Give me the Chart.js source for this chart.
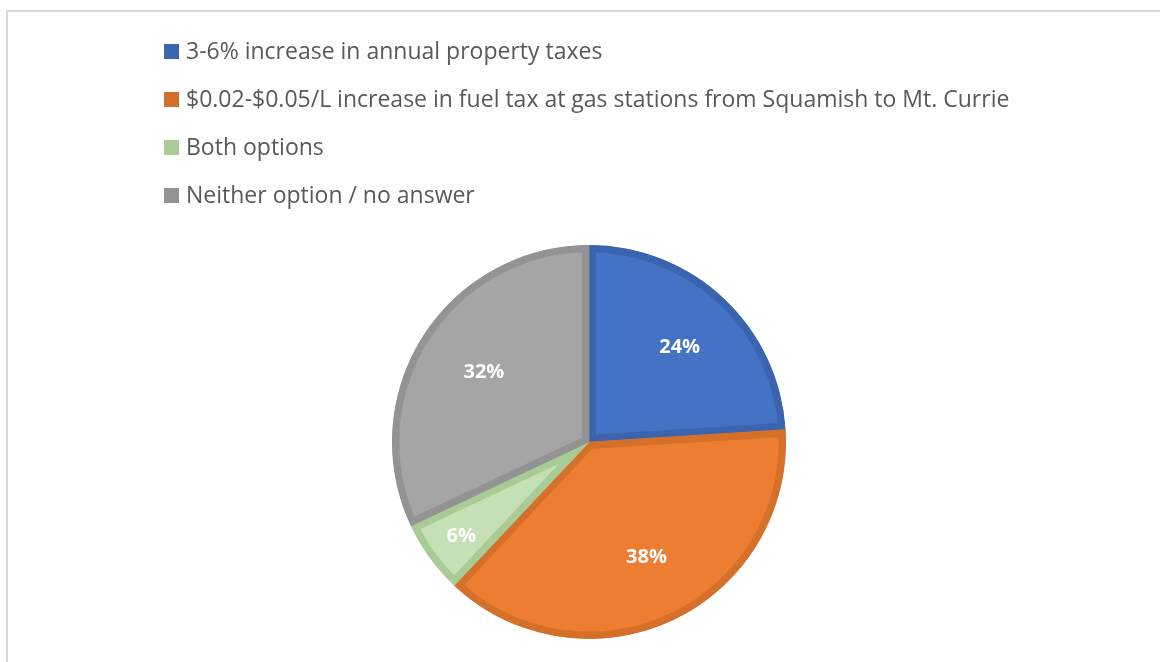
<!DOCTYPE html>
<html>
<head>
<meta charset="utf-8">
<script src="https://cdn.jsdelivr.net/npm/chart.js@4.4.0/dist/chart.umd.min.js"></script>
<style>
  body { margin: 0; background: #fff; overflow: hidden; }
  #frame { position: absolute; left: 6px; top: 10px; width: 1200px; height: 700px; border: 2px solid #d9d9d9; }
  #myChart { position: absolute; left: 0; top: 0; }
</style>
</head>
<body>
<div id="frame"></div>
<canvas id="myChart" width="1160" height="662"></canvas>
<script>
const labels = [
  "3-6% increase in annual property taxes",
  "$0.02-$0.05/L increase in fuel tax at gas stations from Squamish to Mt. Currie",
  "Both options",
  "Neither option / no answer"
];
const values = [24, 38, 6, 32];
const fillColors = ["#4472C4", "#ED7D31", "#C5E0B4", "#A5A5A5"];
const edgeColors = ["#3B64AE", "#D5702B", "#A9CC96", "#939393"];

// legend stacked one item per line, drawn on the canvas
const stackedLegend = {
  id: 'stackedLegend',
  afterDraw(chart) {
    const ctx = chart.ctx;
    ctx.save();
    ctx.font = '23px "Open Sans"';
    ctx.textBaseline = 'middle';
    chart.data.labels.forEach((txt, i) => {
      const y = 51 + i * 48;
      ctx.fillStyle = edgeColors[i];
      ctx.fillRect(164, y - 7, 15, 15);
      ctx.fillStyle = '#595959';
      ctx.fillText(txt, 186, y + 1);
    });
    ctx.restore();
  }
};

// percent labels inside slices
const sliceLabels = {
  id: 'sliceLabels',
  afterDatasetsDraw(chart) {
    const ctx = chart.ctx;
    const meta = chart.getDatasetMeta(0);
    ctx.save();
    ctx.font = 'bold 20px "Open Sans"';
    ctx.fillStyle = '#ffffff';
    ctx.textAlign = 'center';
    ctx.textBaseline = 'middle';
    meta.data.forEach((arc, i) => {
      const p = arc.getProps(['x', 'y', 'startAngle', 'endAngle', 'outerRadius'], true);
      const mid = (p.startAngle + p.endAngle) / 2;
      const f = values[i] < 10 ? 0.82 : 0.65;
      ctx.fillText(values[i] + '%', p.x + Math.cos(mid) * p.outerRadius * f + 3, p.y + Math.sin(mid) * p.outerRadius * f - 1);
    });
    ctx.restore();
  }
};

new Chart(document.getElementById('myChart'), {
  type: 'pie',
  data: {
    labels: labels,
    datasets: [{
      data: values,
      backgroundColor: fillColors,
      borderColor: edgeColors,
      borderWidth: 7,
      borderAlign: 'inner',
      hoverBorderWidth: 7
    }]
  },
  options: {
    responsive: false,
    animation: false,
    layout: { padding: { top: 245, bottom: 23, left: 300, right: 282 } },
    plugins: {
      legend: { display: false },
      tooltip: { enabled: false }
    }
  },
  plugins: [stackedLegend, sliceLabels]
});
</script>
</body>
</html>
